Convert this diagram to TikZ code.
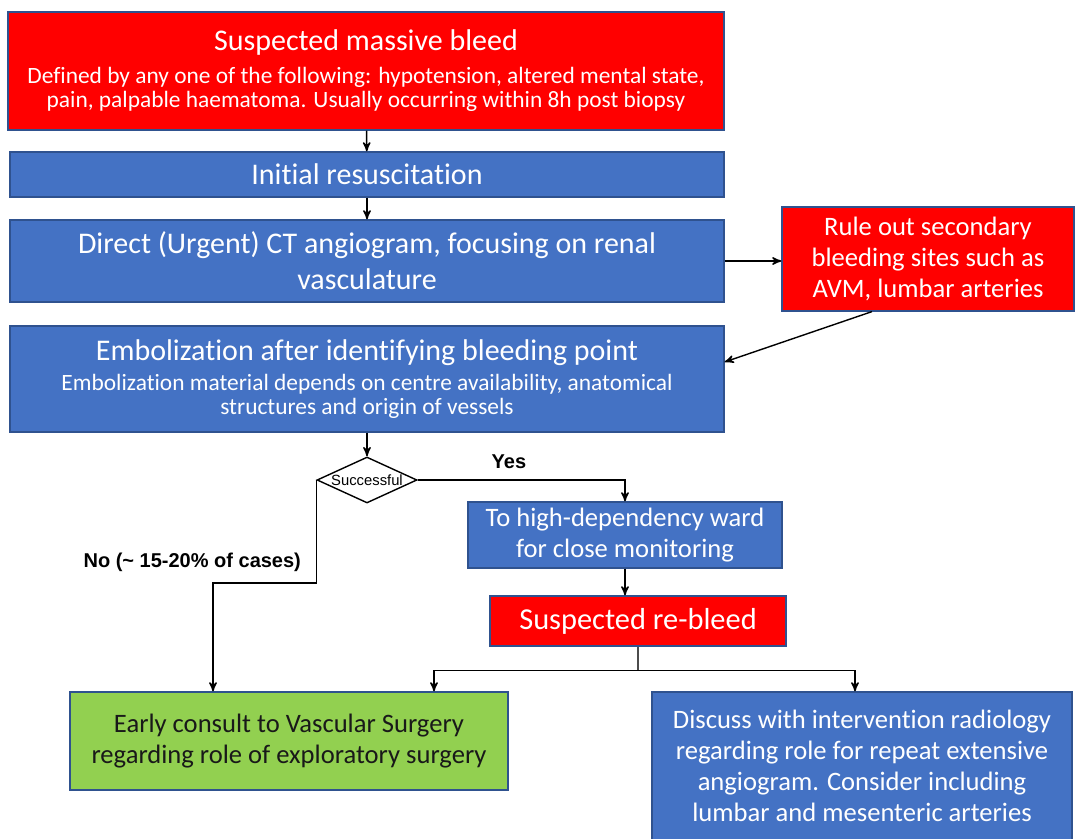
\documentclass[tikz,border=0pt]{standalone}
\usepackage{fontspec}
\setmainfont{Carlito}[Ligatures=NoCommon]
\newfontfamily\arialfont{Liberation Sans}
\usetikzlibrary{arrows,shapes.geometric,positioning}

\definecolor{alertred}{HTML}{FF0000}
\definecolor{stepblue}{HTML}{4472C4}
\definecolor{okgreen}{HTML}{92D050}
\definecolor{edgeblue}{HTML}{2F528F}

\tikzset{
  box/.style={rectangle, draw=edgeblue, line width=0.6pt, align=center, inner sep=2pt, text=white},
  redbox/.style={box, fill=alertred},
  bluebox/.style={box, fill=stepblue},
  greenbox/.style={box, fill=okgreen, text=black!90},
  bigtext/.style={font=\fontsize{15}{18}\selectfont},
  midtext/.style={font=\fontsize{13.3}{15.6}\selectfont},
  decision/.style={diamond, draw=black, fill=white, aspect=2.1, inner sep=0pt,
    minimum width=50pt, minimum height=23pt, font=\arialfont\fontsize{7.4}{8}\selectfont},
  answer/.style={font=\arialfont\bfseries\fontsize{10}{11}\selectfont}
}

\begin{document}
\begin{tikzpicture}[x=0.5pt,y=-0.5pt,>=stealth',line width=0.7pt]
  \useasboundingbox (0,0) rectangle (1076,839);

  \node[redbox, minimum width=358pt, minimum height=59pt] (bleed) at (366,71)
    {{\fontsize{15}{17}\selectfont Suspected massive bleed}\\[4.5pt]
     {\fontsize{11.7}{12.5}\selectfont Defined by any one of the following: hypotension, altered mental state,}\\
     {\fontsize{11.7}{12.5}\selectfont pain, palpable haematoma. Usually occurring within 8h post biopsy}};
  \node[bluebox, bigtext, minimum width=357pt, minimum height=22.5pt] (resus) at (367,174.5)
    {Initial resuscitation};
  \node[bluebox, bigtext, minimum width=357pt, minimum height=41pt] (ct) at (367,261)
    {Direct (Urgent) CT angiogram, focusing on renal\\ vasculature};
  \node[redbox, midtext, minimum width=146pt, minimum height=52pt] (secondary) at (928,259)
    {Rule out secondary\\ bleeding sites such as\\ AVM, lumbar arteries};
  \node[bluebox, minimum width=357pt, minimum height=53pt] (emb) at (367,379)
    {{\fontsize{15}{17}\selectfont Embolization after identifying bleeding point}\\[3pt]
     {\fontsize{11.7}{13}\selectfont Embolization material depends on centre availability, anatomical}\\
     {\fontsize{11.7}{13}\selectfont structures and origin of vessels}};
  \node[decision] (success) at (367,480) {Successful};
  \node[bluebox, midtext, minimum width=157pt, minimum height=33pt] (hdu) at (625,535)
    {To high-dependency ward\\ for close monitoring};
  \node[redbox, font=\fontsize{15.2}{17}\selectfont, minimum width=148pt, minimum height=25pt] (rebleed) at (638,621)
    {Suspected re-bleed};
  \node[greenbox, midtext, minimum width=219pt, minimum height=49pt] (surgery) at (289,741)
    {Early consult to Vascular Surgery\\ regarding role of exploratory surgery};
  \node[bluebox, midtext, minimum width=210pt, minimum height=74pt] (radiology) at (862,766)
    {Discuss with intervention radiology\\ regarding role for repeat extensive\\ angiogram. Consider including\\ lumbar and mesenteric arteries};

  \draw[->] (bleed) -- (resus);
  \draw[->] (resus) -- (ct);
  \draw[->] (ct.east) -- (ct.east -| secondary.west);
  \draw[->] ([xshift=-28pt]secondary.south) -- ([yshift=8.5pt]emb.east);
  \draw[->] (emb) -- (success);
  \draw[->] (success.east) -| node[pos=0.22, above=2pt, answer] {Yes} (hdu.north);
  \draw[->] (success.west) -- node[pos=0.8, left=4pt, answer] {No (\~{} 15-20\% of cases)} ++(0,-51.5pt)
    -| ([xshift=-38pt]surgery.north);
  \draw[->] (hdu.south) -- (hdu.south |- rebleed.north);
  \draw[black!70] (rebleed.south) -- ++(0,-12pt) coordinate (split);
  \draw[->] (split) -| ([xshift=72.5pt]surgery.north);
  \draw[->] (split) -| ([xshift=-3.5pt]radiology.north);
\end{tikzpicture}
\end{document}
